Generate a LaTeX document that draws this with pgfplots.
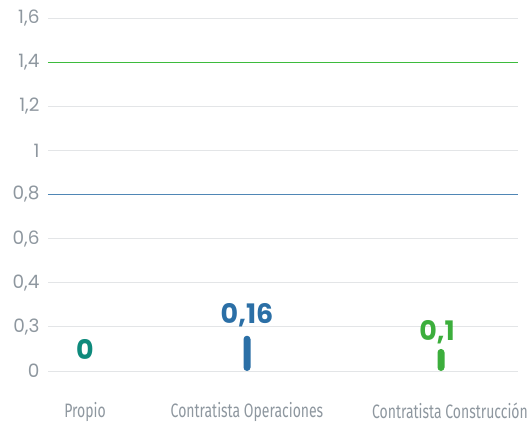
\documentclass[border=0pt]{standalone}
\usepackage{fontspec}
\usepackage{pgfplots}
\pgfplotsset{compat=1.18}
\setmainfont{Poppins}
\newfontfamily\catfont[FakeStretch=0.72]{Fira Sans}
\definecolor{gridc}{HTML}{E3E5E7}
\definecolor{tickc}{HTML}{8E979F}
\definecolor{tealc}{HTML}{0E8A7C}
\definecolor{bluec}{HTML}{2B6FA6}
\definecolor{greenc}{HTML}{3CAE3C}
\definecolor{bluel}{HTML}{4F86B5}
\definecolor{greenl}{HTML}{3DBB3D}
\begin{document}
\begin{tikzpicture}
\path[use as bounding box] (0,0) rectangle (532bp,424bp);
\begin{axis}[
  at={(48bp,53bp)}, anchor=south west,
  scale only axis, width=470bp, height=353bp,
  xmin=48, xmax=518, ymin=0, ymax=1.6,
  axis line style={draw=none},
  tick style={draw=none},
  ymajorgrids, grid style={gridc, line width=0.8bp},
  ytick={0,0.2,0.4,0.6,0.8,1,1.2,1.4,1.6},
  yticklabels={{0},{0,3},{0,4},{0,6},{0,8},{1},{1,2},{1,4},{1,6}},
  yticklabel style={font=\fontsize{18.5}{18.5}\selectfont, text=tickc, anchor=east, xshift=-5bp},
  xtick={85,247,450},
  xticklabels={Propio,Contratista Operaciones,Contratista Construcción},
  xticklabel style={font=\catfont\fontsize{19.5}{19.5}\selectfont, text=tickc, anchor=north, yshift=-28bp},
  clip=false,
]
\addplot[bluel, line width=1.2bp, forget plot] coordinates {(48,0.8) (518,0.8)};
\addplot[greenl, line width=1.2bp, forget plot] coordinates {(48,1.4) (518,1.4)};
\addplot[ybar, bar width=7bp, fill=bluec, draw=none, rounded corners=3.5bp,
  point meta=explicit symbolic,
  nodes near coords, every node near coord/.style={font=\bfseries\fontsize{27}{27}\selectfont, text=bluec, anchor=south, yshift=5bp}]
  coordinates {(247,0.16) [0,16]};
\addplot[ybar, bar width=7bp, fill=greenc, draw=none, rounded corners=3.5bp,
  point meta=explicit symbolic,
  nodes near coords, every node near coord/.style={font=\bfseries\fontsize{27}{27}\selectfont, text=greenc, anchor=south, yshift=1bp, xshift=-4bp}]
  coordinates {(441,0.1) [0,1]};
\addplot[draw=none, mark=none,
  point meta=explicit symbolic,
  nodes near coords, every node near coord/.style={font=\bfseries\fontsize{27}{27}\selectfont, text=tealc, anchor=south, yshift=8bp}]
  coordinates {(85,0) [0]};
\end{axis}
\end{tikzpicture}
\end{document}
